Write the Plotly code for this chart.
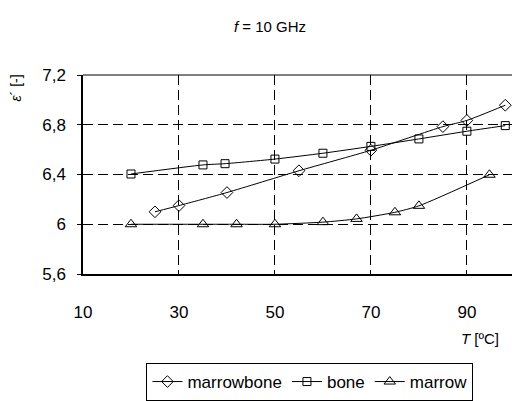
import plotly.graph_objects as go

mb_T = [25, 30, 40, 55, 70, 85, 90, 98]
mb_e = [6.10, 6.15, 6.255, 6.43, 6.595, 6.785, 6.835, 6.957]

bone_T = [20, 35, 39.6, 50, 60, 70, 80, 90, 98]
bone_e = [6.404, 6.477, 6.487, 6.524, 6.571, 6.626, 6.686, 6.748, 6.793]

marrow_T = [20, 35, 42, 50, 60, 67, 75, 80, 94.7]
marrow_e = [6.0, 6.0, 6.0, 6.0, 6.017, 6.043, 6.096, 6.148, 6.398]

x_ticks = [10, 30, 50, 70, 90]
y_ticks = [5.6, 6.0, 6.4, 6.8, 7.2]
y_ticktext = ["5,6", "6", "6,4", "6,8", "7,2"]

FONT = "Liberation Sans, Arial, sans-serif"

fig = go.Figure()
series = [
    ("marrowbone", mb_T, mb_e, "diamond-open", 9),
    ("bone", bone_T, bone_e, "square-open", 8),
    ("marrow", marrow_T, marrow_e, "triangle-up-open", 10),
]
for name, xs, ys, sym, sz in series:
    fig.add_trace(go.Scatter(
        x=xs, y=ys, name=name, mode="lines+markers",
        line=dict(color="black", width=1, shape="spline", smoothing=0.6),
        marker=dict(symbol=sym, size=sz, color="black", line=dict(color="black", width=1)),
        cliponaxis=False,
    ))

fig.update_layout(
    width=512, height=401,
    margin=dict(l=83, r=0, t=75, b=122),
    paper_bgcolor="white", plot_bgcolor="white",
    font=dict(family=FONT, size=17, color="black"),
    showlegend=True,
    legend=dict(
        orientation="h", x=0.529, xanchor="center", y=-0.45, yanchor="top",
        bordercolor="black", borderwidth=1, font=dict(size=17),
        itemwidth=30, tracegroupgap=0, itemsizing="trace",
    ),
    annotations=[
        dict(text="<i>f</i> = 10 GHz", xref="paper", yref="paper",
             x=(270 - 83) / 429, y=(279 - 25) / 204, xanchor="center", yanchor="middle",
             showarrow=False, font=dict(size=15)),
        dict(text="<i>T</i> [ºC]", xref="paper", yref="paper",
             x=(480 - 83) / 429, y=(279 - 345) / 204, xanchor="center", yanchor="middle",
             showarrow=False, font=dict(size=15)),
        dict(text="<i>ε</i>´ [-]", xref="paper", yref="paper",
             x=(16 - 83) / 429, y=(279 - 73) / 204, xanchor="center", yanchor="top",
             textangle=-90, showarrow=False, font=dict(size=14)),
    ],
    shapes=[
        dict(type="line", xref="paper", yref="paper", x0=0, x1=1, y0=1, y1=1,
             line=dict(color="black", width=1)),
    ],
)

fig.update_xaxes(
    range=[10, 99.4], tickvals=x_ticks, ticktext=[str(v) for v in x_ticks],
    showgrid=True, gridcolor="black", griddash="10px,5px", gridwidth=1,
    showline=True, linecolor="black", linewidth=1.5, zeroline=False,
    ticks="", ticklabelstandoff=22, tickfont=dict(size=17),
)
fig.update_yaxes(
    range=[5.6, 7.2], tickvals=y_ticks, ticktext=y_ticktext,
    showgrid=True, gridcolor="black", griddash="10px,5px", gridwidth=1,
    showline=True, linecolor="black", linewidth=1.5, zeroline=False,
    ticks="outside", ticklen=4, tickcolor="black", ticklabelstandoff=8,
    tickfont=dict(size=17),
)

fig.write_html("out.html")
